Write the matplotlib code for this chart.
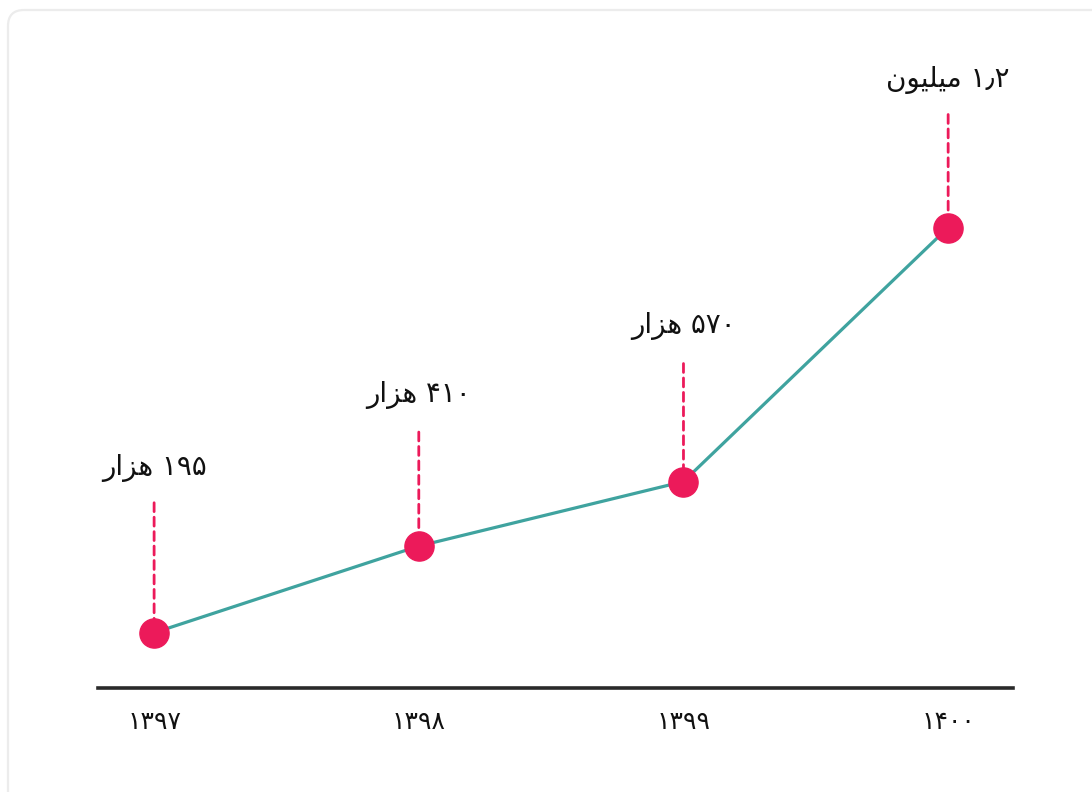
import matplotlib.pyplot as plt
from matplotlib.patches import FancyBboxPatch
from matplotlib.transforms import IdentityTransform

years = ["۱۳۹۷", "۱۳۹۸", "۱۳۹۹", "۱۴۰۰"]
values = [195, 410, 570, 1200]  # هزار
labels = ["۱۹۵ هزار", "۴۱۰ هزار", "۵۷۰ هزار", "۱٫۲ میلیون"]

# فاصله برچسب و خط‌چین از نقطه (پیکسل)
label_offsets = [165, 151, 156, 148]
dash_offsets = [130, 114, 118, 113]

# شکل‌دهی ساده حروف فارسی (matplotlib خودش حروف را نمی‌چسباند)
FORMS = {
    "ه": ("\uFEE9", "\uFEEA", "\uFEEB", "\uFEEC"),
    "ز": ("\uFEAF", "\uFEB0", None, None),
    "ا": ("\uFE8D", "\uFE8E", None, None),
    "ر": ("\uFEAD", "\uFEAE", None, None),
    "م": ("\uFEE1", "\uFEE2", "\uFEE3", "\uFEE4"),
    "ی": ("\uFBFC", "\uFBFD", "\uFEF3", "\uFEF4"),
    "ل": ("\uFEDD", "\uFEDE", "\uFEDF", "\uFEE0"),
    "و": ("\uFEED", "\uFEEE", None, None),
    "ن": ("\uFEE5", "\uFEE6", "\uFEE7", "\uFEE8"),
}


def shape_word(w):
    out = []
    for i, ch in enumerate(w):
        if ch not in FORMS:
            out.append(ch)
            continue
        prev = w[i - 1] if i > 0 else None
        nxt = w[i + 1] if i + 1 < len(w) else None
        join_prev = prev in FORMS and FORMS[prev][2] is not None
        join_next = nxt in FORMS and FORMS[ch][2] is not None
        iso, fin, ini, med = FORMS[ch]
        if join_prev and join_next:
            out.append(med)
        elif join_prev:
            out.append(fin)
        elif join_next:
            out.append(ini)
        else:
            out.append(iso)
    return "".join(reversed(out))


def shape(text):
    words = []
    for w in text.split(" "):
        if any(c in FORMS for c in w):
            words.append(shape_word(w))
        else:
            words.append(w)
    return " ".join(reversed(words))


plt.rcParams['font.family'] = ['DejaVu Sans']

fig = plt.figure(figsize=(10.92, 7.92), dpi=100)
W, H = 1092, 792

card = FancyBboxPatch((8, -30), 1120, 812, boxstyle="round,pad=0,rounding_size=16",
                      transform=IdentityTransform(), facecolor="white", edgecolor="#ececec",
                      linewidth=1.6, zorder=-5)
fig.patches.append(card)

ax = fig.add_axes([98 / W, (792 - 688) / H, (1013 - 98) / W, (688 - 40) / H])
ax.set_facecolor("none")
ax.set_zorder(2)

x = list(range(len(values)))
ax.plot(x, values, color="#3fa39f", linewidth=2.3, zorder=2)
ax.plot(x, values, linestyle="none", marker="o", markersize=21, color="#ec1a5a", zorder=3)

for xi, v, lab, lo, do in zip(x, values, labels, label_offsets, dash_offsets):
    ax.annotate("", xy=(xi, v), xytext=(0, do * 0.72), textcoords="offset points",
                arrowprops=dict(arrowstyle="-", color="#ec1a5a", linewidth=2.0,
                                linestyle=(0, (3.2, 2)), shrinkA=0, shrinkB=0), zorder=1)
    ax.annotate(shape(lab), xy=(xi, v), xytext=(0, lo * 0.72), textcoords="offset points",
                ha="center", va="center", fontsize=20, color="#111111")

ax.set_xlim(-0.212, 3.245)
ax.set_ylim(58, 1665)
ax.set_xticks(x)
ax.set_xticklabels(years, fontsize=18, color="#111111")
ax.tick_params(axis="x", length=0, pad=16)
ax.set_yticks([])
for s in ["top", "left", "right"]:
    ax.spines[s].set_visible(False)
ax.spines["bottom"].set_color("#2a2a2a")
ax.spines["bottom"].set_linewidth(2.6)

fig.savefig("out.png", dpi=100)
